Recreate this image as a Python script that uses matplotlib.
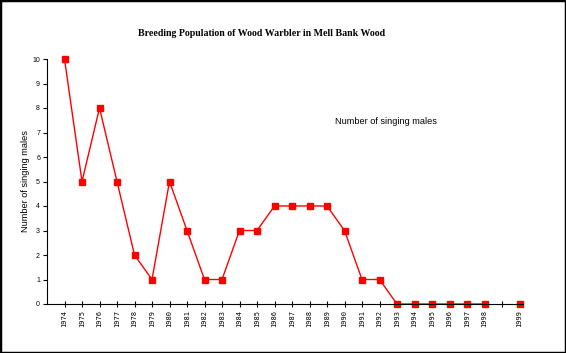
import numpy as np
import matplotlib
matplotlib.use("Agg")
import matplotlib.pyplot as plt

years = ["1974", "1975", "1976", "1977", "1978", "1979", "1980", "1981", "1982",
         "1983", "1984", "1985", "1986", "1987", "1988", "1989", "1990", "1991",
         "1992", "1993", "1994", "1995", "1996", "1997", "1998", "", "1999"]
males = [10, 5, 8, 5, 2, 1, 5, 3, 1, 1, 3, 3, 4, 4, 4, 4, 3, 1, 1, 0, 0, 0, 0, 0, 0,
         np.nan, 0]

plt.rcParams['font.family'] = ['Liberation Sans', 'DejaVu Sans']

fig = plt.figure(figsize=(5.66, 3.53), dpi=100)
# outer border
fig.patches.append(plt.Rectangle((0, 0), 1, 1, transform=fig.transFigure,
                                 fill=False, edgecolor='black', linewidth=2.5))

ax = fig.add_axes([47 / 566, 49 / 353, (523 - 47) / 566, (304 - 59) / 353])
x = np.arange(len(years))
ax.plot(x, males, color='red', linewidth=1, marker='s', markersize=4.5,
        markerfacecolor='red', markeredgecolor='red', clip_on=False)

ax.set_xlim(-1, 26.2)
ax.set_ylim(0, 10)
ax.set_xticks(x)
ax.set_xticklabels(years, rotation=90, fontsize=5, family='DejaVu Sans Mono')
ax.set_yticks(range(0, 11))
ax.tick_params(axis='y', labelsize=5, length=3, width=0.8, pad=2)
ax.tick_params(axis='x', direction='inout', length=5, width=0.8, pad=2)
for s in ['top', 'right']:
    ax.spines[s].set_visible(False)
ax.spines['left'].set_linewidth(0.8)
ax.spines['bottom'].set_linewidth(0.8)

ax.set_ylabel("Number of singing males", fontsize=6.6, labelpad=2)
fig.text(262 / 566, 1 - 33 / 353, "Breeding Population of Wood Warbler in Mell Bank Wood",
         ha='center', va='center', fontsize=7.1, fontweight='bold', family='Liberation Serif')
fig.text(335 / 566, 1 - 122 / 353, "Number of singing males", ha='left', va='center',
         fontsize=6.6)

fig.savefig("out.png", dpi=100)
